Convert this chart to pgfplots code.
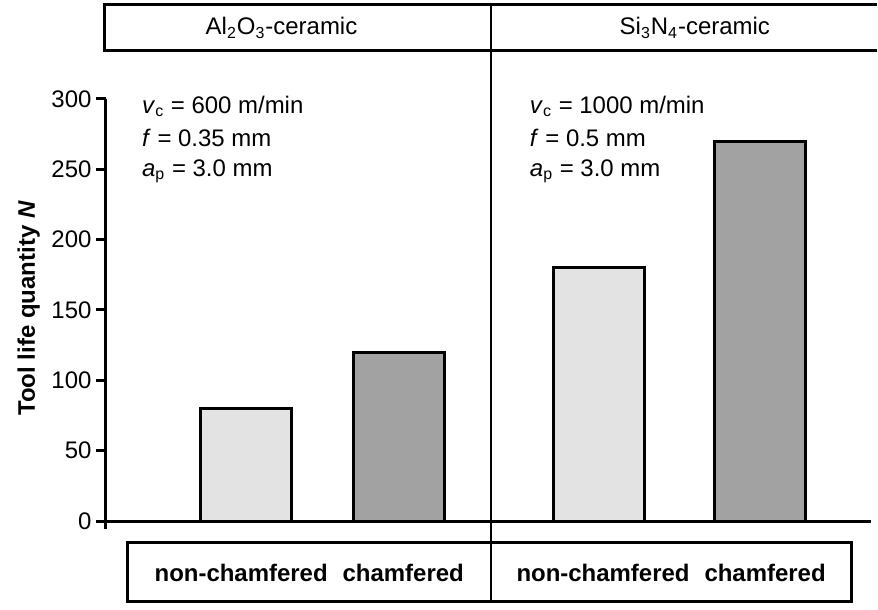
\documentclass[border=0pt]{standalone}
\usepackage{fontspec}
\setmainfont{Liberation Sans}
\usepackage{pgfplots}
\pgfplotsset{compat=1.18}
\definecolor{barlight}{HTML}{E3E3E3}
\definecolor{bardark}{HTML}{A2A2A2}

\begin{document}
\fontsize{12pt}{14pt}\selectfont
\begin{tikzpicture}
% x data runs in image pixels (106..872), y in tool life N
\begin{axis}[
  scale only axis,
  width=383pt, height=215.5pt,
  xmin=106, xmax=872,
  ymin=-5.7, ymax=300,
  axis y line=left, axis x line=none,
  axis line style={line width=1.5pt,-},
  xtick=\empty,
  ytick={0,50,...,300},
  tick align=outside,
  major tick length=5pt,
  ytick style={line width=1.5pt,black},
  /pgf/number format/assume math mode=true,
  yticklabel style={anchor=east, inner sep=0pt, xshift=-2pt},
  clip=false,
]
\addplot[ybar, bar width=91, bar shift=0pt, fill=barlight, draw=black, line width=1.5pt]
  coordinates {(246.5,80) (600,180)};
\addplot[ybar, bar width=91, bar shift=0pt, fill=bardark, draw=black, line width=1.5pt]
  coordinates {(399.5,120) (761.5,270)};

\draw[line width=1.5pt] (axis cs:106,0) -- (axis cs:872,0);

% header and footer frames
\draw[line width=1.5pt] (axis cs:878,366.7) -- (axis cs:105,366.7)
  -- (axis cs:105,334.0) -- (axis cs:878,334.0);
\draw[line width=1.5pt] (axis cs:127.5,-14.9) rectangle (axis cs:853,-57.45);
\draw[line width=1pt] (axis cs:492,366.7) -- (axis cs:492,-57.45);

\node at (axis cs:282,350.4) {Al\textsubscript{2}O\textsubscript{3}-ceramic};
\node at (axis cs:696,350.4) {Si\textsubscript{3}N\textsubscript{4}-ceramic};

\node[anchor=base west, inner sep=0pt] at (axis cs:154.5,-43.26)
  {\textbf{non-chamfered\hspace{7.5pt}chamfered}};
\node[anchor=base west, inner sep=0pt] at (axis cs:517,-43.26)
  {\textbf{non-chamfered\hspace{7.5pt}chamfered}};

% cutting conditions
\node[anchor=base west, inner sep=0pt] at (axis cs:142,289.9) {\textit{v}\textsubscript{c} = 600 m/min};
\node[anchor=base west, inner sep=0pt] at (axis cs:142,266.2) {\textit{f} = 0.35 mm};
\node[anchor=base west, inner sep=0pt] at (axis cs:142,244.9) {\textit{a}\textsubscript{p} = 3.0 mm};
\node[anchor=base west, inner sep=0pt] at (axis cs:530.5,289.9) {\textit{v}\textsubscript{c} = 1000 m/min};
\node[anchor=base west, inner sep=0pt] at (axis cs:530.5,266.2) {\textit{f} = 0.5 mm};
\node[anchor=base west, inner sep=0pt] at (axis cs:530.5,244.9) {\textit{a}\textsubscript{p} = 3.0 mm};

\node[rotate=90, anchor=base, inner sep=0pt] at (axis cs:35,151.1)
  {\textbf{Tool life quantity \textit{N}}};

\path (axis cs:0,-63.12) rectangle (axis cs:878,370.21);
\end{axis}
\end{tikzpicture}
\end{document}
